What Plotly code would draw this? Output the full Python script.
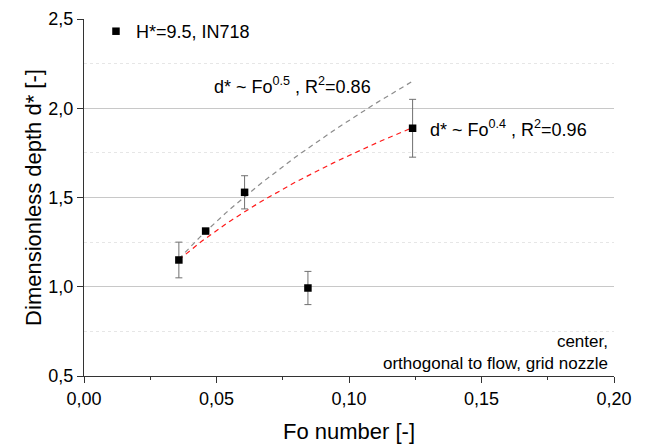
import numpy as np
import plotly.graph_objects as go

# Data
fo = [0.0358, 0.0459, 0.0606, 0.0845, 0.124]
depth = [1.15, 1.312, 1.529, 0.993, 1.888]
depth_err = [0.10, 0.0, 0.093, 0.093, 0.162]

# Power-law fit parameters (d* = a * Fo^n)
fit_gray_a, fit_gray_n = 6.11, 0.5
fit_red_a, fit_red_n = 4.36, 0.4
fit_fo_range = [0.0358, 0.124]

x_ticks = [0.0, 0.05, 0.10, 0.15, 0.20]
y_ticks = [0.5, 1.0, 1.5, 2.0, 2.5]

font_family = "Liberation Sans, Arial, sans-serif"

fo_fit = np.linspace(fit_fo_range[0], fit_fo_range[1], 60)

fig = go.Figure()

fig.add_trace(go.Scatter(
    x=fo_fit, y=fit_gray_a * fo_fit ** fit_gray_n, mode="lines",
    line=dict(color="#8c8c8c", width=1.2, dash="5px,4px"),
    showlegend=False, hoverinfo="skip"))
fig.add_trace(go.Scatter(
    x=fo_fit, y=fit_red_a * fo_fit ** fit_red_n, mode="lines",
    line=dict(color="#ff1a1a", width=1.2, dash="5px,4px"),
    showlegend=False, hoverinfo="skip"))
fig.add_trace(go.Scatter(
    x=fo, y=depth, mode="markers", name="H*=9.5, IN718",
    marker=dict(symbol="square", size=7.5, color="black"),
    error_y=dict(type="data", array=depth_err, visible=True,
                 color="#707070", thickness=1, width=3.5),
))

fig.add_annotation(x=0.0483, y=2.13, xref="x", yref="y",
                   text="d* ~ Fo<sup>0.5</sup> , R<sup>2</sup>=0.86",
                   showarrow=False, xanchor="left", yanchor="middle",
                   font=dict(size=18, color="black", family=font_family))
fig.add_annotation(x=0.1298, y=1.884, xref="x", yref="y",
                   text="d* ~ Fo<sup>0.4</sup> , R<sup>2</sup>=0.96",
                   showarrow=False, xanchor="left", yanchor="middle",
                   font=dict(size=18, color="black", family=font_family))
fig.add_annotation(x=0.1985, y=0.634, xref="x", yref="y",
                   text="center,<br>orthogonal to flow, grid nozzle",
                   showarrow=False, xanchor="right", yanchor="middle", align="right",
                   font=dict(size=17, color="black", family=font_family))

fig.update_layout(
    width=637, height=436,
    margin=dict(l=76, r=31, t=11, b=68, autoexpand=False),
    paper_bgcolor="white", plot_bgcolor="white",
    separators=",.",
    font=dict(family=font_family, color="black", size=18),
    legend=dict(x=0.0226, y=0.9885, xanchor="left", yanchor="top", yref="container",
                bgcolor="rgba(0,0,0,0)", font=dict(size=18)),
    showlegend=True,
)
fig.update_xaxes(
    range=[0, 0.2], tickvals=x_ticks, tickformat=".2f",
    showline=True, linecolor="#333", linewidth=1.2,
    ticks="outside", ticklen=6, tickcolor="#333",
    showgrid=False, zeroline=False,
    minor=dict(dtick=0.025, ticks="outside", ticklen=3, tickcolor="#333", showgrid=False),
    title=dict(text="Fo number [-]", font=dict(size=22), standoff=20),
    tickfont=dict(size=18),
)
fig.update_yaxes(
    range=[0.5, 2.5], tickvals=y_ticks, tickformat=".1f",
    showline=True, linecolor="#333", linewidth=1.2,
    ticks="outside", ticklen=6, tickcolor="#333",
    showgrid=True, gridcolor="#c8c8c8", gridwidth=1, zeroline=False,
    minor=dict(tickvals=[0.75, 1.25, 1.75, 2.25], showgrid=True,
               gridcolor="#e6e6e6", griddash="dot", gridwidth=1, ticks=""),
    title=dict(text="Dimensionless depth d* [-]", font=dict(size=22), standoff=0),
    tickfont=dict(size=18),
)

fig.write_html("out.html")
